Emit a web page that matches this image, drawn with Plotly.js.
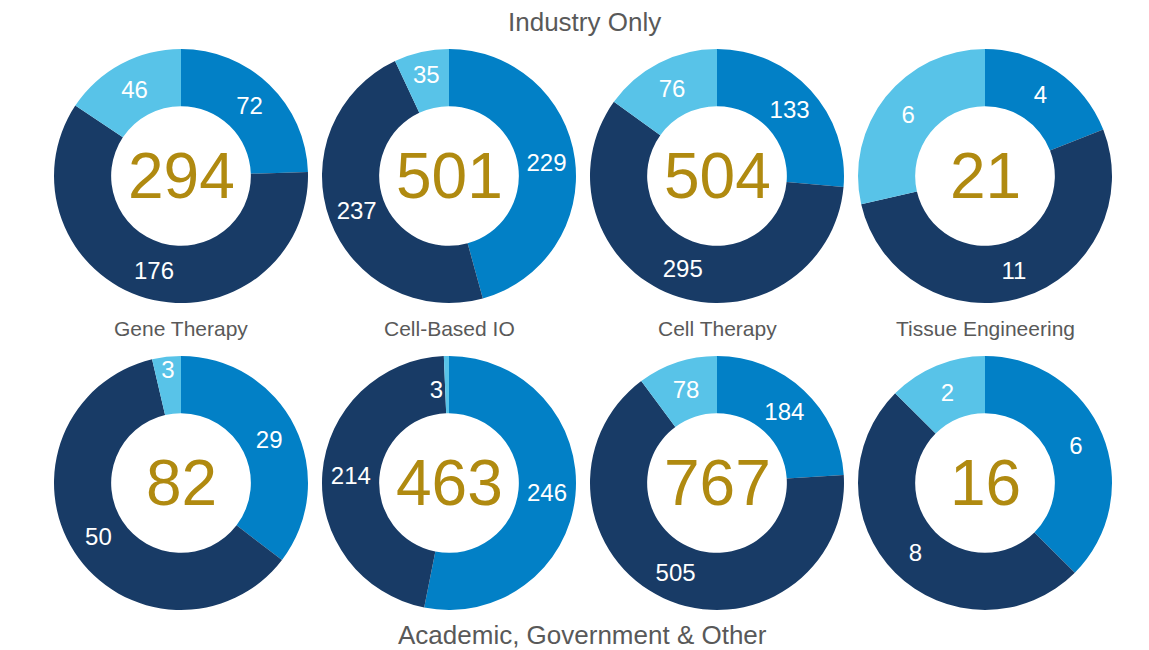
<!DOCTYPE html>
<html>
<head>
<meta charset="utf-8">
<script src="https://cdn.plot.ly/plotly-3.0.1.min.js"></script>
<style>html,body{margin:0;padding:0;background:#fff;}#chart{width:1149px;height:650px;}</style>
</head>
<body>
<div id="chart"></div>
<script>
const categories = ['Gene Therapy', 'Cell-Based IO', 'Cell Therapy', 'Tissue Engineering'];
const segmentNames = ['Segment 1', 'Segment 2', 'Segment 3'];
const rowTitles = ['Industry Only', 'Academic, Government & Other'];

// Industry Only (per category)
const industrySeg1 = [72, 229, 133, 4];
const industrySeg2 = [176, 237, 295, 11];
const industrySeg3 = [46, 35, 76, 6];

// Academic, Government & Other (per category)
const academicSeg1 = [29, 246, 184, 6];
const academicSeg2 = [50, 214, 505, 8];
const academicSeg3 = [3, 3, 78, 2];

const colors = ['#0280C6', '#183B66', '#58C3E8'];
const W = 1149, H = 650;
const colCenters = [181, 449, 717, 985];
const rowCenters = [176, 483];
const R = 127;

const rows = [
  [industrySeg1, industrySeg2, industrySeg3],
  [academicSeg1, academicSeg2, academicSeg3]
];

const data = [];
const annotations = [];
const font = 'Liberation Sans, Arial, Helvetica, sans-serif';
const NB = '\u00a0';

rows.forEach((row, r) => {
  categories.forEach((cat, c) => {
    const vals = [row[0][c], row[1][c], row[2][c]];
    const total = vals.reduce((a, b) => a + b, 0);
    const cx = colCenters[c], cy = rowCenters[r];
    // very thin slices: pad the label so it sits readable inside the ring
    const templates = vals.map(v => (v / total < 0.02)
      ? NB + '<br>' + NB + '<br>%{value}' + NB + NB + NB
      : '%{value}');
    data.push({
      type: 'pie',
      values: vals,
      labels: segmentNames,
      name: cat,
      sort: false,
      direction: 'clockwise',
      rotation: 0,
      hole: 0.55,
      marker: {colors: colors, line: {width: 0}},
      texttemplate: templates,
      textposition: 'inside',
      insidetextorientation: 'horizontal',
      textfont: {family: font, size: 24, color: '#ffffff'},
      domain: {
        x: [(cx - R) / W, (cx + R) / W],
        y: [(H - (cy + R)) / H, (H - (cy - R)) / H]
      },
      showlegend: false,
      hoverinfo: 'label+value+percent'
    });
    annotations.push({
      text: String(total), showarrow: false,
      xref: 'paper', yref: 'paper',
      x: cx / W, y: (H - cy) / H, xanchor: 'center', yanchor: 'middle',
      font: {family: font, size: 64, color: '#B08A10'}
    });
  });
});

categories.forEach((cat, c) => {
  annotations.push({
    text: cat, showarrow: false, xref: 'paper', yref: 'paper',
    x: colCenters[c] / W, y: (H - 328) / H, xanchor: 'center', yanchor: 'middle',
    font: {family: font, size: 21, color: '#595959'}
  });
});

annotations.push({
  text: rowTitles[0], showarrow: false, xref: 'paper', yref: 'paper',
  x: 584 / W, y: (H - 22) / H, xanchor: 'center', yanchor: 'middle',
  font: {family: font, size: 26, color: '#595959'}
});
annotations.push({
  text: rowTitles[1], showarrow: false, xref: 'paper', yref: 'paper',
  x: 582 / W, y: (H - 635) / H, xanchor: 'center', yanchor: 'middle',
  font: {family: font, size: 26, color: '#595959'}
});

const layout = {
  width: W, height: H,
  margin: {l: 0, r: 0, t: 0, b: 0},
  paper_bgcolor: '#ffffff',
  showlegend: false,
  uniformtext: {mode: 'show', minsize: 24},
  annotations: annotations
};

Plotly.newPlot('chart', data, layout, {displayModeBar: false});
</script>
</body>
</html>
